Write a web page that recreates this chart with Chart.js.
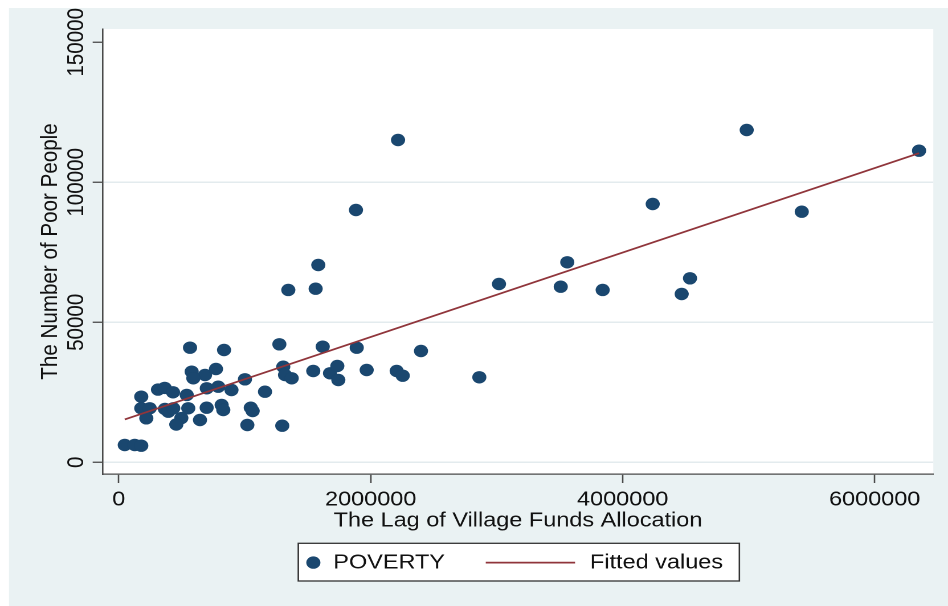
<!DOCTYPE html>
<html>
<head>
<meta charset="utf-8">
<script src="https://cdn.jsdelivr.net/npm/chart.js@4.4.1/dist/chart.umd.min.js"></script>
<style>
  html, body { margin: 0; padding: 0; background: #ffffff; overflow: hidden; }
  #wrap {
    position: absolute; left: 0; top: 0;
    width: 832px; height: 606px;
    transform: scaleX(1.139423); transform-origin: 0 0;
  }
  canvas { display: block; }
</style>
</head>
<body>
<div id="wrap"><canvas id="chart" width="832" height="606" style="width:832px;height:606px"></canvas></div>
<script>
// Lagged village funds allocation per district (x) and number of poor people (y)
const fundsLag = [
  1584000, 1346000, 1563000, 1275000, 1619000, 1889000, 2399000, 1306000,
  1320000, 1373000, 1544000, 1677000, 1735000, 1743000, 1968000, 2206000,
  2254000, 1002000,  895000, 1161000, 1048000, 1063000, 1021000, 1298000,
  1883000, 2217000, 4984000, 6352000, 4238000, 5421000, 3560000, 3018000,
  3508000, 3841000, 4534000, 4468000, 2862000,  566000,  836000,  685000,
   772000,  579000,  592000,  699000,  790000,  540000,  552000,  698000,
   817000,  830000,  645000,  497000,  457000,  179000,  312000,  365000,
   431000,  179000,  246000,  219000,  367000,  394000,  433000,   48000,
   127000,  179000
];
const poorPeople = [
   70460,  61540,  62000,  42140,  41290,  40930,  39750,  34140,
   31180,  30000,  32610,  31790,  34390,  29390,  32960,  32610,
   30930,  29640,  25820,  25210,  19500,  18320,  13320,  13070,
   90110, 115110, 118680, 111290,  92250,  89500,  71430,  63680,
   62710,  61540,  65710,  60110,  30360,  40930,  40110,  31180,
   33320,  32360,  30000,  26430,  27000,  24040,  19290,  19500,
   20460,  18680,  15110,  15800,  13500,  23430,  25960,  26570,
   25000,  19290,  19290,  15710,  19040,  18070,  19290,   6180,
    6180,   5930
];
// Fitted regression line, drawn between the smallest and largest allocation
const fitFunds = [48000, 6352000];
const fitPoor = [15300, 110400];

const xTicks = [0, 2000000, 4000000, 6000000];
const yTicks = [0, 50000, 100000, 150000];

const FAMILY = '"Liberation Sans", Arial, sans-serif';
const SIZE = 20.6;
const textFont = { family: FAMILY, size: SIZE };
const textColor = '#111111';
const axisColor = '#4a4a4a';
const gridColor = '#e3ebee';
const dotColor = '#1a476f';
const fitColor = '#90353b';

// Geometry of the plot frame (canvas units before horizontal stretch)
const AREA_LEFT = 90.13;
const Y_TICK_LEN = 8.8;
const Y_LABEL_CENTER = 67.3;

// Rotated y tick labels are centred on the widest label; offset the padding so they sit where wanted
const mctx = document.createElement('canvas').getContext('2d');
mctx.font = SIZE + 'px ' + FAMILY;
const widest = Math.max(...yTicks.map(v => mctx.measureText(String(v)).width));
const yTickPad = AREA_LEFT - Y_TICK_LEN - widest / 2 - Y_LABEL_CENTER;

const canvasBg = {
  id: 'canvasBg',
  beforeDraw(chart) {
    const { ctx, width, height, chartArea: a } = chart;
    ctx.save();
    ctx.fillStyle = '#ffffff';
    ctx.fillRect(0, 0, width, height);
    ctx.fillStyle = '#eaf2f3';
    ctx.fillRect(7.9, 8, width, height);
    ctx.fillStyle = '#ffffff';
    ctx.fillRect(a.left, a.top, a.right - a.left, a.bottom - a.top);
    ctx.restore();
  }
};

const boxLegend = {
  id: 'boxLegend',
  afterDraw(chart) {
    const { ctx } = chart;
    const pts = chart.data.datasets[0];
    const fit = chart.data.datasets[1];
    const cy = 562.6;
    ctx.save();
    ctx.fillStyle = '#ffffff';
    ctx.fillRect(261.8, 543.3, 387.1, 37.7);
    ctx.strokeStyle = '#333333';
    ctx.lineWidth = 1.3;
    ctx.strokeRect(261.8, 543.3, 387.1, 37.7);

    ctx.fillStyle = pts.backgroundColor;
    ctx.beginPath();
    ctx.arc(275.0, cy, pts.pointRadius, 0, Math.PI * 2);
    ctx.fill();

    ctx.strokeStyle = fit.borderColor;
    ctx.lineWidth = fit.borderWidth;
    ctx.beginPath();
    ctx.moveTo(426.3, cy);
    ctx.lineTo(504.7, cy);
    ctx.stroke();

    ctx.fillStyle = textColor;
    ctx.font = SIZE + 'px ' + FAMILY;
    ctx.textAlign = 'left';
    ctx.textBaseline = 'middle';
    ctx.fillText(pts.label, 292.5, cy);
    ctx.fillText(fit.label, 517.8, cy);
    ctx.restore();
  }
};

new Chart(document.getElementById('chart'), {
  type: 'scatter',
  data: {
    datasets: [
      {
        label: 'POVERTY',
        data: fundsLag.map((x, i) => ({ x, y: poorPeople[i] })),
        backgroundColor: dotColor,
        borderColor: dotColor,
        borderWidth: 0,
        pointRadius: 6.2,
        pointHoverRadius: 6.2,
        order: 1
      },
      {
        type: 'line',
        label: 'Fitted values',
        data: fitFunds.map((x, i) => ({ x, y: fitPoor[i] })),
        borderColor: fitColor,
        borderWidth: 1.8,
        pointRadius: 0,
        fill: false,
        tension: 0,
        order: 0
      }
    ]
  },
  options: {
    responsive: false,
    animation: false,
    devicePixelRatio: 2,
    layout: { padding: { left: 0, right: 12.9, top: 29, bottom: 0 } },
    plugins: { legend: { display: false }, tooltip: { enabled: false } },
    scales: {
      x: {
        type: 'linear',
        position: 'bottom',
        min: -127000,
        max: 6465000,
        afterBuildTicks: s => { s.ticks = xTicks.map(v => ({ value: v })); },
        afterFit: s => { s.height = 132; },
        grid: {
          drawOnChartArea: false, drawTicks: true, tickLength: 9,
          tickColor: axisColor, tickWidth: 1.3
        },
        border: { color: axisColor, width: 1.3 },
        ticks: {
          font: textFont, color: textColor, padding: 4.6,
          minRotation: 0, maxRotation: 0, autoSkip: false,
          callback: v => String(v)
        },
        title: {
          display: true, text: 'The Lag of Village Funds Allocation',
          font: textFont, color: textColor, padding: { top: 0, bottom: 72.6 }
        }
      },
      y: {
        type: 'linear',
        position: 'left',
        min: -4179,
        max: 154750,
        afterBuildTicks: s => { s.ticks = yTicks.map(v => ({ value: v })); },
        afterFit: s => { s.width = AREA_LEFT; },
        grid: {
          color: c => (c.tick && c.tick.value === 150000) ? 'rgba(0,0,0,0)' : gridColor,
          lineWidth: 1.5, drawTicks: true, tickLength: Y_TICK_LEN,
          tickColor: axisColor, tickWidth: 1.3
        },
        border: { color: axisColor, width: 1.3 },
        ticks: {
          font: textFont, color: textColor, padding: yTickPad,
          minRotation: 90, maxRotation: 90, crossAlign: 'center', autoSkip: false,
          callback: v => String(v)
        },
        title: {
          display: true, text: 'The Number of Poor People',
          font: textFont, color: textColor, padding: { top: 31.9, bottom: 0 }
        }
      }
    }
  },
  plugins: [canvasBg, boxLegend]
});
</script>
</body>
</html>
